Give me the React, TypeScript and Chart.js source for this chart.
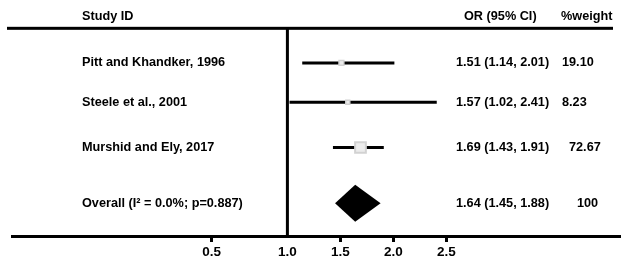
import React, { useEffect, useRef } from "react";
import { Chart, registerables, LinearScale } from "chart.js";

Chart.register(...registerables);

// ---------- data ----------
const HEADERS = ["Study ID", "OR (95% CI)", "%weight"];
const STUDIES = ["Pitt and Khandker, 1996", "Steele et al., 2001", "Murshid and Ely, 2017"];
const OR_EST = [1.51, 1.57, 1.69];
const OR_LOW = [1.14, 1.02, 1.43];
const OR_HIGH = [2.01, 2.41, 1.91];
const WEIGHTS = ["19.10", "8.23", "72.67"];
const OVERALL_LABEL = "Overall (I\u00B2 = 0.0%; p=0.887)";
const OVERALL = [1.64, 1.45, 1.88]; // estimate, low, high
const OVERALL_WEIGHT = "100";
const TICK_VALUES = [0.5, 1.0, 1.5, 2.0, 2.5];
const TICK_LABELS = ["0.5", "1.0", "1.5", "2.0", "2.5"];
const NULL_VALUE = 1.0;

// ---------- layout / style ----------
const W = 633;
const H = 261;
const AXIS_Y = 236;
const Y_MAX = 6;
const ROW_SLOTS = [1.6, 2.6, 3.75];
const OVERALL_SLOT = 5.17;
const HEADER_SLOT = 0.41;
const RULE_SLOT = 0.72;
const SQUARE_RADIUS = [3.4, 2.8, 7.6];
const SQUARE_BORDER = [1.5, 1.5, 2];
const NAME_X = 82;
const OR_X = 456;
const OR_HEADER_X = 464;
const WEIGHT_HEADER_X = 561;
const WEIGHT_X = [562, 562, 569];
const OVERALL_WEIGHT_X = 577;
const DIAMOND_HALF = 18.5;
const LOW_STRETCH = 1.43;
const FONT = '"Liberation Sans", Arial, sans-serif';
const TEXT_FONT = `bold 12.7px ${FONT}`;

const warp = (v: number) => (v < NULL_VALUE ? NULL_VALUE - (NULL_VALUE - v) * LOW_STRETCH : v);
const unwarp = (u: number) => (u < NULL_VALUE ? NULL_VALUE - (NULL_VALUE - u) / LOW_STRETCH : u);

class BrokenLinearScale extends LinearScale {
  static id = "brokenLinear";
  static defaults = (LinearScale as any).defaults;
  getPixelForValue(value: number) {
    return super.getPixelForValue(value === null ? value : warp(value));
  }
  getValueForPixel(pixel: number) {
    return unwarp(super.getValueForPixel(pixel) as number);
  }
}
Chart.register(BrokenLinearScale as any);

const tablePlugin = {
  id: "forestTable",
  afterDatasetsDraw(chart: any) {
    const { ctx } = chart;
    const xs = chart.scales.x;
    const ys = chart.scales.y;
    const [est, lo, hi] = OVERALL;
    const yc = ys.getPixelForValue(OVERALL_SLOT);
    ctx.save();
    ctx.fillStyle = "#000";
    ctx.beginPath();
    ctx.moveTo(xs.getPixelForValue(lo), yc);
    ctx.lineTo(xs.getPixelForValue(est), yc - DIAMOND_HALF);
    ctx.lineTo(xs.getPixelForValue(hi), yc);
    ctx.lineTo(xs.getPixelForValue(est), yc + DIAMOND_HALF);
    ctx.closePath();
    ctx.fill();
    ctx.restore();
  },
  afterDraw(chart: any) {
    const { ctx } = chart;
    const ys = chart.scales.y;
    ctx.save();
    ctx.fillStyle = "#000";
    const ruleY = ys.getPixelForValue(RULE_SLOT);
    ctx.fillRect(7, ruleY - 1.5, 606, 3);
    ctx.font = TEXT_FONT;
    ctx.textBaseline = "middle";
    ctx.textAlign = "left";
    const hy = ys.getPixelForValue(HEADER_SLOT);
    ctx.fillText(HEADERS[0], NAME_X, hy);
    ctx.fillText(HEADERS[1], OR_HEADER_X, hy);
    ctx.fillText(HEADERS[2], WEIGHT_HEADER_X, hy);
    const fmt = (e: number, l: number, h: number) =>
      `${e.toFixed(2)} (${l.toFixed(2)}, ${h.toFixed(2)})`;
    STUDIES.forEach((name, i) => {
      const y = ys.getPixelForValue(ROW_SLOTS[i]);
      ctx.fillText(name, NAME_X, y);
      ctx.fillText(fmt(OR_EST[i], OR_LOW[i], OR_HIGH[i]), OR_X, y);
      ctx.fillText(WEIGHTS[i], WEIGHT_X[i], y);
    });
    const oy = ys.getPixelForValue(OVERALL_SLOT);
    ctx.fillText(OVERALL_LABEL, NAME_X, oy);
    ctx.fillText(fmt(OVERALL[0], OVERALL[1], OVERALL[2]), OR_X, oy);
    ctx.fillText(OVERALL_WEIGHT, OVERALL_WEIGHT_X, oy);
    ctx.restore();
  },
};

export default function App() {
  const ref = useRef<HTMLCanvasElement | null>(null);
  useEffect(() => {
    if (!ref.current) return;
    const squares = {
      data: STUDIES.map((_, i) => ({ x: OR_EST[i], y: ROW_SLOTS[i] })),
      showLine: false,
      pointStyle: "rect",
      pointRadius: SQUARE_RADIUS,
      pointBackgroundColor: "#ececec",
      pointBorderColor: "#d2d2d2",
      pointBorderWidth: SQUARE_BORDER,
      order: 0,
    };
    const ciLines = STUDIES.map((_, i) => ({
      data: [
        { x: OR_LOW[i], y: ROW_SLOTS[i] },
        { x: OR_HIGH[i], y: ROW_SLOTS[i] },
      ],
      showLine: true,
      borderColor: "#000",
      borderWidth: 3,
      pointRadius: 0,
      order: 1,
    }));
    const nullLine = {
      data: [
        { x: NULL_VALUE, y: RULE_SLOT },
        { x: NULL_VALUE, y: Y_MAX },
      ],
      showLine: true,
      borderColor: "#000",
      borderWidth: 3,
      pointRadius: 0,
      order: 2,
    };
    const chart = new Chart(ref.current, {
      type: "scatter",
      data: { datasets: [squares, ...ciLines, nullLine] as any },
      plugins: [tablePlugin],
      options: {
        responsive: false,
        animation: false,
        events: [],
        layout: { autoPadding: false, padding: { left: 12, right: 13, top: 0, bottom: 0 } },
        plugins: { legend: { display: false }, tooltip: { enabled: false } },
        scales: {
          x: {
            type: "brokenLinear" as any,
            min: -1.6,
            max: 4.14,
            border: { display: true, color: "#000", width: 3 },
            grid: {
              display: true,
              drawOnChartArea: false,
              drawTicks: true,
              tickLength: 6,
              tickWidth: 3,
              tickColor: (c: any) =>
                c.tick && c.tick.value === NULL_VALUE ? "rgba(0,0,0,0)" : "#000",
            },
            ticks: {
              autoSkip: false,
              maxRotation: 0,
              padding: 2,
              color: "#000",
              font: { family: FONT, size: 13.5, weight: "bold" },
              callback: (_v: any, i: number) => TICK_LABELS[i],
            },
            afterBuildTicks: (s: any) => {
              s.ticks = TICK_VALUES.map((v) => ({ value: v }));
            },
            afterFit: (s: any) => {
              s.height = H - AXIS_Y;
            },
          } as any,
          y: {
            type: "linear",
            display: false,
            min: 0,
            max: Y_MAX,
            reverse: true,
          },
        },
      },
    });
    return () => chart.destroy();
  }, []);
  return (
    <div style={{ position: "fixed", left: 0, top: 0, width: W, height: H, background: "#fff" }}>
      <canvas ref={ref} width={W} height={H} style={{ display: "block", width: W, height: H }} />
    </div>
  );
}
